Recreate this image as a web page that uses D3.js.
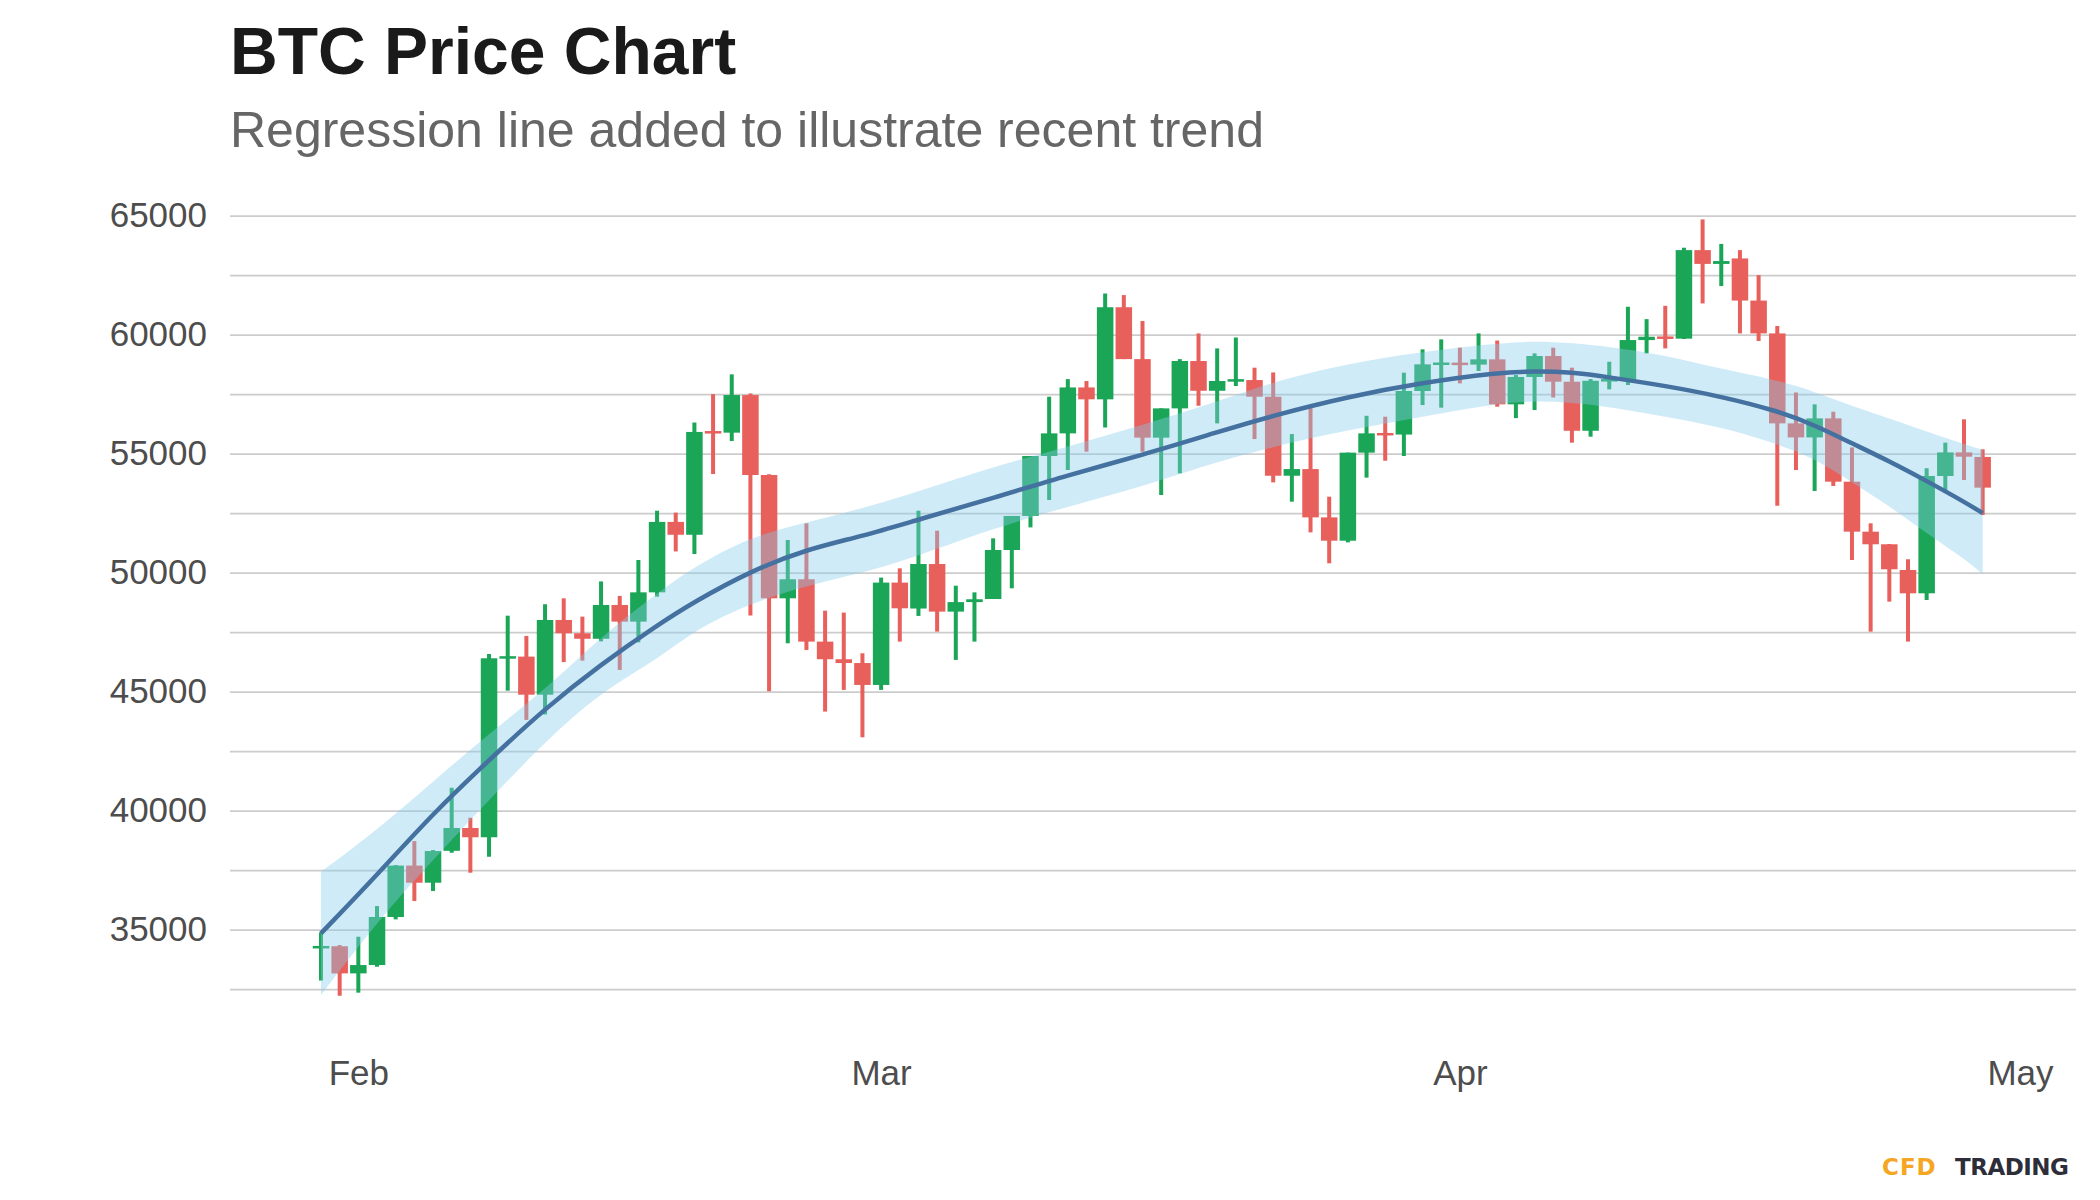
<!DOCTYPE html>
<html><head><meta charset="utf-8">
<script src="https://cdn.jsdelivr.net/npm/d3@7"></script>
<style>body{margin:0;background:#fff}</style>
</head><body><svg id="c" width="2100" height="1200"></svg>
<script>
const dates = ["2021-01-30","2021-01-31","2021-02-01","2021-02-02","2021-02-03","2021-02-04","2021-02-05","2021-02-06","2021-02-07","2021-02-08",
"2021-02-09","2021-02-10","2021-02-11","2021-02-12","2021-02-13","2021-02-14","2021-02-15","2021-02-16","2021-02-17","2021-02-18",
"2021-02-19","2021-02-20","2021-02-21","2021-02-22","2021-02-23","2021-02-24","2021-02-25","2021-02-26","2021-02-27","2021-02-28",
"2021-03-01","2021-03-02","2021-03-03","2021-03-04","2021-03-05","2021-03-06","2021-03-07","2021-03-08","2021-03-09","2021-03-10",
"2021-03-11","2021-03-12","2021-03-13","2021-03-14","2021-03-15","2021-03-16","2021-03-17","2021-03-18","2021-03-19","2021-03-20",
"2021-03-21","2021-03-22","2021-03-23","2021-03-24","2021-03-25","2021-03-26","2021-03-27","2021-03-28","2021-03-29","2021-03-30",
"2021-03-31","2021-04-01","2021-04-02","2021-04-03","2021-04-04","2021-04-05","2021-04-06","2021-04-07","2021-04-08","2021-04-09",
"2021-04-10","2021-04-11","2021-04-12","2021-04-13","2021-04-14","2021-04-15","2021-04-16","2021-04-17","2021-04-18","2021-04-19",
"2021-04-20","2021-04-21","2021-04-22","2021-04-23","2021-04-24","2021-04-25","2021-04-26","2021-04-27","2021-04-28","2021-04-29"];
const open = [34250,34300,33160,33510,35530,37690,36970,38310,39270,38880,
46400,46470,44870,48010,47450,47220,48640,47940,49170,52130,
51590,55910,55880,57460,54100,48920,49720,47100,46360,46200,
45280,49580,48490,50360,48360,48760,48890,50950,52380,54900,
55850,57780,57280,61150,58970,55670,56900,58890,57640,58050,
58090,57390,54070,54350,52320,51340,55040,55850,55800,57630,
58750,58800,58740,58960,57070,58220,59100,58020,55960,58060,
58100,59770,59910,59830,63550,62970,63200,61430,60050,56270,
55680,56480,53820,51720,51190,50110,49130,54060,55050,54860];
const high = [34880,34350,34700,35990,37710,38720,38340,40960,39700,46580,
48190,47340,48670,48920,48150,49630,49020,50530,52600,52520,
56310,57500,58330,57530,54130,51370,52070,48400,48320,46610,
49790,50180,52600,51760,49450,49170,51440,52380,54900,57390,
58130,58050,61730,61660,60570,56900,58970,60050,59420,59880,
58610,58410,55820,56970,53190,55040,56590,56550,58400,59380,
59800,59450,60050,59750,58300,59210,59450,58610,58130,58860,
61170,60650,61210,63650,64840,63810,63550,62500,60360,57570,
57070,56760,55260,52070,51200,50560,54380,55460,56440,55180];
const low = [32860,32220,32350,33440,35430,36200,36620,38230,37390,38060,
45040,43810,44040,46240,46300,47110,45910,47070,48990,50890,
50780,54140,55530,48200,45010,47030,46750,44160,45070,43080,
45070,47100,48180,47520,46330,47100,48890,49340,51900,53050,
54310,55080,56100,58970,55080,53260,54170,57010,56270,57840,
55610,53790,52980,51690,50390,51270,53990,54700,54900,57040,
56930,57950,58470,56970,56490,56830,57360,55460,55710,57700,
57880,59210,59420,59815,61310,62040,60050,59730,52810,54310,
53430,53640,50530,47520,48780,47100,48850,53470,53890,52420];
const close = [34270,33160,33510,35530,37690,36970,38300,39270,38880,46400,
46470,44870,48010,47450,47220,48640,47940,49170,52130,51590,
55910,55880,57460,54100,48920,49720,47100,46360,46200,45280,
49580,48500,50360,48360,48760,48880,50950,52380,54900,55850,
57780,57280,61150,58970,55670,56900,58890,57640,58050,58100,
57390,54070,54350,52320,51340,55040,55850,55780,57630,58750,
58800,58740,58960,57070,58220,59100,58020,55960,58060,58100,
59770,59910,59830,63550,62970,63090,61430,60050,56270,55680,
56480,53820,51720,51190,50140,49130,54060,55050,54870,53570];

// regression trend and its band
const trendDates = ["2021-01-30","2021-02-02","2021-02-05","2021-02-08","2021-02-11","2021-02-14","2021-02-17","2021-02-19","2021-02-22","2021-02-25",
"2021-02-28","2021-03-03","2021-03-07","2021-03-11","2021-03-15","2021-03-19","2021-03-22","2021-03-26","2021-03-30","2021-04-03",
"2021-04-05","2021-04-07","2021-04-09","2021-04-12","2021-04-15","2021-04-18","2021-04-20","2021-04-22","2021-04-24","2021-04-26",
"2021-04-28","2021-04-29"];
const trendMid = [34842,37293,39884,42125,44296,46150,47784,48778,50060,50980,
51530,52230,53127,54100,54940,55900,56600,57392,57980,58400,
58470,58420,58204,57850,57400,56800,56200,55430,54680,53850,
52980,52500];
const trendLower = [32251,35332,37924,40445,42896,44997,46327,47588,48708,49450,
49980,50700,51859,52770,53610,54660,55291,55991,56551,57111,
57210,57150,56971,56551,56120,55400,54800,53800,52800,51650,
50600,49930];
const trendUpper = [37433,39184,41215,43246,45067,47308,49129,50249,51510,52100,
52700,53400,54450,55291,56201,57182,58022,58792,59282,59632,
59731,59650,59493,59142,58550,58090,57602,57000,56480,55920,
55400,55151];

const yTicks = [35000,40000,45000,50000,55000,60000,65000];
const gridTicks = [32500,35000,37500,40000,42500,45000,47500,50000,52500,55000,57500,60000,62500,65000];
const monthTicks = ["2021-02-01","2021-03-01","2021-04-01","2021-05-01"];
const monthLabels = ["Feb","Mar","Apr","May"];

const parse = d3.utcParse("%Y-%m-%d");
const svg = d3.select("#c");
const FONT = "'Liberation Sans', Arial, Helvetica, sans-serif";

const x = d3.scaleUtc().domain([parse("2021-01-30"), parse("2021-05-01")]).range([321, 2020]);
const y = d3.scaleLinear().domain([35000, 65000]).range([929.6, 215.6]);
const plotLeft = 230, plotRight = 2076;

svg.append("rect").attr("width",2100).attr("height",1200).attr("fill","#fff");

// grid
const grid = svg.append("g").attr("transform",`translate(${plotLeft},0)`)
  .call(d3.axisRight(y).tickValues(gridTicks).tickSize(plotRight-plotLeft).tickFormat(""));
grid.select(".domain").remove();
grid.selectAll("line").attr("stroke","#cccccc").attr("stroke-width",1.6);

// y axis labels
const ya = svg.append("g").attr("transform",`translate(${plotLeft},0)`)
  .call(d3.axisLeft(y).tickValues(yTicks).tickSize(0).tickPadding(23).tickFormat(d3.format("d")));
ya.select(".domain").remove();
ya.selectAll("text").attr("font-family",FONT).attr("font-size",35).attr("fill","#4d4d4d");

// x axis labels
const xa = svg.append("g").attr("transform","translate(0,1000)")
  .call(d3.axisBottom(x).tickValues(monthTicks.map(parse)).tickSize(0).tickPadding(60).tickFormat((d,i)=>monthLabels[i]));
xa.select(".domain").remove();
xa.selectAll("text").attr("font-family",FONT).attr("font-size",35).attr("fill","#4d4d4d");

// candles
const UP = "#1aa557", DOWN = "#e8605c";
const candles = dates.map((d,i)=>({date:parse(d), o:open[i], h:high[i], l:low[i], c:close[i]}));
const bodyW = 16.5;
const cg = svg.append("g");
cg.selectAll("line.wick").data(candles).join("line").attr("class","wick")
  .attr("x1",d=>x(d.date)).attr("x2",d=>x(d.date))
  .attr("y1",d=>y(d.h)).attr("y2",d=>y(d.l))
  .attr("stroke",d=>d.c>=d.o?UP:DOWN).attr("stroke-width",4);
cg.selectAll("rect.body").data(candles).join("rect").attr("class","body")
  .attr("x",d=>x(d.date)-bodyW/2).attr("width",bodyW)
  .attr("y",d=>{const t=Math.min(y(d.o),y(d.c)); const hh=Math.abs(y(d.o)-y(d.c)); return hh<2.5? (y(d.o)+y(d.c))/2-1.25 : t;})
  .attr("height",d=>Math.max(2.5,Math.abs(y(d.o)-y(d.c))))
  .attr("fill",d=>d.c>=d.o?UP:DOWN);

// regression band + line
const trend = trendDates.map((d,i)=>({date:parse(d), m:trendMid[i], lo:trendLower[i], hi:trendUpper[i]}));
svg.append("path").datum(trend)
  .attr("d", d3.area().x(d=>x(d.date)).y0(d=>y(d.lo)).y1(d=>y(d.hi)).curve(d3.curveBasis))
  .attr("fill","skyblue").attr("fill-opacity",0.4);
svg.append("path").datum(trend)
  .attr("d", d3.line().x(d=>x(d.date)).y(d=>y(d.m)).curve(d3.curveBasis))
  .attr("fill","none").attr("stroke","#4471a0").attr("stroke-width",4.5);

// titles
svg.append("text").attr("x",230).attr("y",74).attr("font-family",FONT).attr("font-weight","bold")
  .attr("font-size",66).attr("fill","#1a1a1a").text("BTC Price Chart");
svg.append("text").attr("x",230).attr("y",147).attr("font-family",FONT)
  .attr("font-size",50).attr("fill","#666666").text("Regression line added to illustrate recent trend");

// footer logo
svg.append("text").attr("x",1882).attr("y",1175).attr("font-family","'DejaVu Sans', sans-serif")
  .attr("font-weight","bold").attr("font-size",23).attr("fill","#f5a623")
  .attr("letter-spacing",1).text("CFD");
svg.append("text").attr("x",1955).attr("y",1175).attr("font-family","'DejaVu Sans', sans-serif")
  .attr("font-weight","bold").attr("font-size",23).attr("fill","#2e2e3a")
  .attr("letter-spacing",-0.5).text("TRADING");
</script></body></html>
